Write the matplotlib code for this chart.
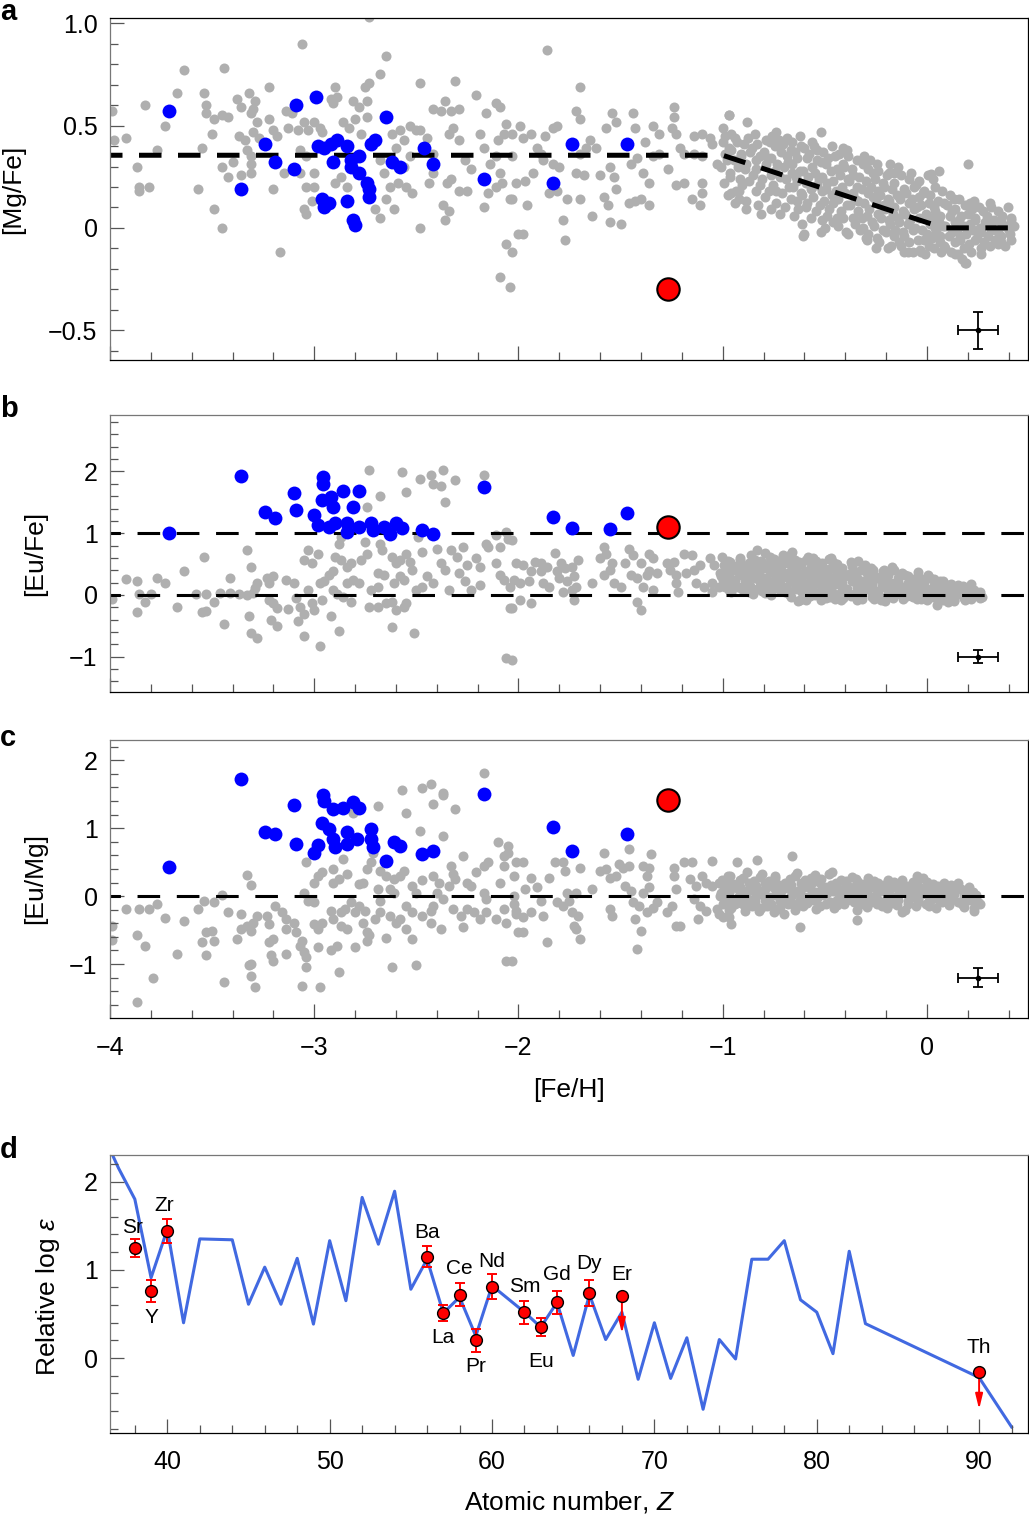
import numpy as np
import matplotlib
matplotlib.use('Agg')
import matplotlib.pyplot as plt
from matplotlib.ticker import MultipleLocator

plt.rcParams['font.family'] = ['Liberation Sans', 'DejaVu Sans']
plt.rcParams['mathtext.fontset'] = 'custom'
plt.rcParams['mathtext.rm'] = 'Liberation Sans'
plt.rcParams['mathtext.it'] = 'Liberation Sans:italic'

# ---------------- panel a-c data ----------------
# the highlighted star
star_feh = -1.27
star_mgfe = -0.30
star_eufe = 1.10
star_eumg = 1.41

# r-II stars (blue)
mgfe_blue = [(-3.71, 0.57), (-3.36, 0.19), (-3.24, 0.41), (-3.19, 0.32), (-3.09, 0.60),
             (-3.10, 0.29), (-2.99, 0.64), (-2.98, 0.40), (-2.95, 0.39), (-2.92, 0.41),
             (-2.89, 0.43), (-2.84, 0.40), (-2.91, 0.32), (-2.96, 0.14), (-2.95, 0.10),
             (-2.93, 0.12), (-2.84, 0.13), (-2.81, 0.04), (-2.80, 0.015), (-2.82, 0.30),
             (-2.78, 0.35), (-2.78, 0.27), (-2.82, 0.33), (-2.74, 0.22), (-2.73, 0.19),
             (-2.73, 0.15), (-2.72, 0.41), (-2.70, 0.43), (-2.65, 0.54), (-2.62, 0.32),
             (-2.58, 0.30), (-2.46, 0.39), (-2.42, 0.31), (-2.17, 0.24), (-1.83, 0.22),
             (-1.74, 0.41), (-1.47, 0.41)]

eufe_blue = [(-3.71, 1.005), (-3.36, 1.92), (-3.24, 1.35), (-3.19, 1.25), (-3.10, 1.65),
             (-3.09, 1.38), (-3.00, 1.29), (-2.98, 1.13), (-2.955, 1.91), (-2.955, 1.80),
             (-2.96, 1.53), (-2.92, 1.59), (-2.91, 1.42), (-2.93, 1.10), (-2.90, 1.16),
             (-2.86, 1.69), (-2.78, 1.69), (-2.81, 1.42), (-2.84, 1.16), (-2.84, 1.02),
             (-2.78, 1.10), (-2.72, 1.16), (-2.71, 1.05), (-2.66, 1.10), (-2.63, 0.99),
             (-2.60, 1.16), (-2.57, 1.08), (-2.47, 1.05), (-2.42, 0.99), (-2.17, 1.75),
             (-1.83, 1.26), (-1.74, 1.09), (-1.55, 1.06), (-1.47, 1.33)]

eumg_blue = [(-3.71, 0.43), (-3.36, 1.72), (-3.24, 0.94), (-3.19, 0.91), (-3.10, 1.34),
             (-3.09, 0.76), (-3.00, 0.64), (-2.98, 0.75), (-2.955, 1.49), (-2.95, 1.40),
             (-2.96, 1.08), (-2.93, 0.99), (-2.91, 0.84), (-2.90, 0.72), (-2.91, 1.28),
             (-2.86, 1.30), (-2.81, 1.39), (-2.78, 1.30), (-2.84, 0.94), (-2.84, 0.76),
             (-2.79, 0.84), (-2.72, 0.99), (-2.72, 0.84), (-2.71, 0.72), (-2.65, 0.52),
             (-2.61, 0.79), (-2.58, 0.74), (-2.47, 0.62), (-2.42, 0.67), (-2.17, 1.50),
             (-1.83, 1.02), (-1.74, 0.66), (-1.47, 0.91)]

# comparison stars (grey)
mgfe_gray = [
    (-3.99, 0.57), (-3.98, 0.43), (-3.92, 0.44), (-3.87, 0.30), (-3.86, 0.20), (-3.86, 0.18),
    (-3.81, 0.20), (-3.83, 0.60), (-3.77, 0.38), (-3.73, 0.50), (-3.67, 0.66), (-3.64, 0.77),
    (-3.57, 0.19), (-3.55, 0.39), (-3.54, 0.66), (-3.53, 0.60), (-3.53, 0.56), (-3.50, 0.46),
    (-3.49, 0.09), (-3.49, 0.53), (-3.45, 0.30), (-3.45, 0.00), (-3.44, 0.78), (-3.45, 0.55),
    (-3.42, 0.54), (-3.42, 0.25), (-3.40, 0.32), (-3.38, 0.63), (-3.36, 0.59), (-3.37, 0.45),
    (-3.34, 0.43), (-3.36, 0.26), (-3.32, 0.66), (-3.29, 0.62), (-3.30, 0.58), (-3.31, 0.56),
    (-3.28, 0.52), (-3.33, 0.38), (-3.31, 0.35), (-3.31, 0.31), (-3.30, 0.47), (-3.27, 0.44),
    (-3.31, 0.27), (-3.22, 0.69), (-3.22, 0.53), (-3.20, 0.48), (-3.18, 0.45), (-3.20, 0.19),
    (-3.17, -0.12), (-3.15, 0.27), (-3.14, 0.57), (-3.13, 0.49), (-3.11, 0.56), (-3.08, 0.48),
    (-3.05, 0.52), (-3.03, 0.48), (-3.06, 0.90), (-3.07, 0.38), (-3.04, 0.35), (-3.07, 0.27),
    (-3.04, 0.20), (-3.00, 0.20), (-3.05, 0.09), (-3.04, 0.07), (-3.01, 0.13), (-3.00, 0.27),
    (-3.00, 0.52), (-2.97, 0.49), (-2.96, 0.47), (-2.92, 0.63), (-2.90, 0.69), (-2.89, 0.64),
    (-2.91, 0.61), (-2.90, 0.22), (-2.87, 0.25), (-2.86, 0.52), (-2.83, 0.49), (-2.81, 0.62),
    (-2.80, 0.53), (-2.84, 0.20), (-2.78, 0.59), (-2.75, 0.69), (-2.74, 0.62), (-2.73, 0.71),
    (-2.74, 0.54), (-2.73, 1.03), (-2.77, 0.46), (-2.70, 0.09), (-2.68, 0.05), (-2.68, 0.75),
    (-2.65, 0.84), (-2.68, 0.33), (-2.66, 0.27), (-2.65, 0.14), (-2.61, 0.09), (-2.62, 0.46),
    (-2.60, 0.39), (-2.58, 0.48), (-2.56, 0.43), (-2.63, 0.20), (-2.59, 0.22), (-2.55, 0.20),
    (-2.52, 0.17), (-2.56, 0.30), (-2.53, 0.35), (-2.53, 0.50), (-2.50, 0.48), (-2.48, 0.48),
    (-2.48, 0.71), (-2.48, 0.00), (-2.45, 0.44), (-2.42, 0.36), (-2.44, 0.22), (-2.42, 0.27),
    (-2.42, 0.58), (-2.38, 0.57), (-2.36, 0.62), (-2.37, 0.11), (-2.36, 0.04), (-2.34, 0.08),
    (-2.35, 0.22), (-2.33, 0.24), (-2.34, 0.46), (-2.32, 0.49), (-2.29, 0.43), (-2.33, 0.57),
    (-2.29, 0.58), (-2.31, 0.72), (-2.29, 0.18), (-2.25, 0.18), (-2.26, 0.33), (-2.23, 0.29),
    (-2.21, 0.65), (-2.19, 0.46), (-2.17, 0.39), (-2.16, 0.56), (-2.17, 0.10), (-2.15, 0.17),
    (-2.14, 0.31), (-2.11, 0.35), (-2.09, 0.27), (-2.11, 0.61), (-2.09, 0.59), (-2.10, 0.43),
    (-2.07, 0.46), (-2.11, 0.20), (-2.08, 0.22), (-2.06, -0.08), (-2.03, -0.12), (-2.04, 0.14),
    (-2.09, -0.24), (-2.04, -0.29), (-2.00, -0.03), (-2.06, 0.51),
    (-1.98, -0.03), (-1.99, 0.50), (-2.03, 0.46), (-2.03, 0.35), (-1.98, 0.44), (-1.94, 0.46),
    (-2.01, 0.22), (-1.97, 0.23), (-1.93, 0.27), (-2.03, 0.14), (-1.96, 0.11), (-1.91, 0.39),
    (-1.88, 0.33), (-1.89, 0.36), (-1.87, 0.45), (-1.83, 0.49), (-1.81, 0.50), (-1.86, 0.87),
    (-1.83, 0.31), (-1.80, 0.30), (-1.85, 0.17), (-1.81, 0.18), (-1.78, 0.04), (-1.77, -0.06),
    (-1.76, 0.14), (-1.72, 0.57), (-1.70, 0.53), (-1.70, 0.69), (-1.70, 0.36), (-1.67, 0.39),
    (-1.65, 0.43), (-1.72, 0.27), (-1.68, 0.26), (-1.70, 0.14), (-1.64, 0.06), (-1.62, 0.39),
    (-1.60, 0.26), (-1.58, 0.15), (-1.56, 0.11), (-1.55, 0.03), (-1.50, 0.02), (-1.57, 0.49),
    (-1.54, 0.56), (-1.52, 0.52), (-1.55, 0.30), (-1.53, 0.25), (-1.52, 0.19), (-1.46, 0.12),
    (-1.43, 0.13), (-1.44, 0.56), (-1.43, 0.49), (-1.45, 0.31), (-1.42, 0.34), (-1.39, 0.27),
    (-1.40, 0.14), (-1.38, 0.42), (-1.36, 0.22), (-1.36, 0.11), (-1.34, 0.50), (-1.31, 0.46),
    (-1.34, 0.35), (-1.31, 0.36), (-1.27, 0.29), (-1.23, 0.21), (-1.24, 0.59), (-1.24, 0.54),
    (-1.25, 0.49), (-1.23, 0.46), (-1.21, 0.39), (-1.19, 0.36), (-1.19, 0.22), (-1.15, 0.14),
    (-1.11, 0.11), (-1.10, 0.22), (-1.10, 0.17), (-1.14, 0.45), (-1.10, 0.46), (-1.06, 0.44),
    (-1.14, 0.36), (-1.10, 0.35), (-1.05, 0.41), (-1.03, 0.31), (-0.97, 0.55), (-1.00, 0.49),
    (-0.96, 0.46), (-0.96, 0.17), (-0.92, 0.18), (-0.92, 0.14), (-0.88, 0.52),
    (-0.74, 0.47), (-0.52, 0.47), (-0.62, 0.45), (-0.41, 0.39), (-0.31, 0.35), (-0.18, 0.31),
    (-0.16, 0.27), (-0.605, -0.04), (-0.52, -0.02), (-0.30, -0.05), (-0.25, -0.10),
    (-0.11, -0.12), (-0.03, -0.12), (0.14, -0.13), (0.19, -0.17), (0.35, -0.08), (0.41, 0.01),
    (0.02, 0.265), (0.06, 0.28), (-0.97, 0.55), (0.20, 0.31)]

eufe_gray = [
    (-3.99, -0.07), (-3.92, 0.25), (-3.87, 0.22), (-3.86, 0.02), (-3.87, -0.27), (-3.83, -0.12),
    (-3.80, 0.02), (-3.77, 0.28), (-3.73, 0.19), (-3.67, -0.19), (-3.64, 0.39), (-3.58, 0.02),
    (-3.55, -0.27), (-3.53, -0.26), (-3.54, 0.62), (-3.53, 0.02), (-3.49, -0.11), (-3.44, -0.47),
    (-3.46, 0.03), (-3.41, 0.03), (-3.41, 0.27), (-3.37, 0.02), (-3.33, 0.00), (-3.33, 0.72),
    (-3.32, -0.34), (-3.31, 0.45), (-3.31, -0.62), (-3.28, -0.70), (-3.29, 0.11), (-3.28, 0.19),
    (-3.30, 0.03), (-3.23, 0.27), (-3.20, 0.30), (-3.22, 0.19), (-3.22, -0.08), (-3.20, -0.13),
    (-3.18, -0.22), (-3.21, -0.40), (-3.18, -0.51), (-3.14, 0.24), (-3.10, 0.20), (-3.13, -0.23),
    (-3.09, -0.05), (-3.07, -0.19), (-3.05, -0.31), (-3.08, -0.43), (-3.05, -0.67), (-3.05, 0.56),
    (-3.03, 0.73), (-3.01, 0.51), (-3.03, 0.08), (-3.01, -0.13), (-3.00, -0.24), (-2.98, 0.67),
    (-2.97, -0.83), (-2.97, 0.19), (-2.95, 0.22), (-2.96, -0.08), (-2.92, -0.35), (-2.93, 0.32),
    (-2.91, 0.38), (-2.91, 0.08), (-2.89, 0.02), (-2.90, 0.62), (-2.87, 0.56), (-2.88, -0.58),
    (-2.87, 0.94), (-2.88, 0.83), (-2.84, 0.46), (-2.82, 0.51), (-2.86, -0.03), (-2.82, -0.11),
    (-2.84, 0.19), (-2.81, 0.24), (-2.78, 0.19), (-2.77, 0.56), (-2.74, 0.67), (-2.74, 1.42),
    (-2.73, 2.02), (-2.75, 0.86), (-2.73, -0.19), (-2.69, -0.19), (-2.72, 0.08), (-2.69, 0.13),
    (-2.69, 0.35), (-2.66, 0.32), (-2.68, 1.61), (-2.68, 0.83), (-2.67, 0.73), (-2.65, -0.13),
    (-2.62, -0.11), (-2.62, -0.52), (-2.62, 0.62), (-2.60, 0.51), (-2.58, 0.56), (-2.61, 0.19),
    (-2.58, 0.30), (-2.56, 0.24), (-2.60, -0.24), (-2.56, -0.19), (-2.55, -0.13), (-2.57, 1.99),
    (-2.55, 1.67), (-2.55, 0.67), (-2.53, 0.54), (-2.52, 0.40), (-2.51, -0.62), (-2.50, 0.08),
    (-2.47, 0.13), (-2.49, 0.94), (-2.48, 1.88), (-2.43, 1.94), (-2.42, 1.80), (-2.38, 1.77),
    (-2.47, 0.70), (-2.45, 0.30), (-2.42, 0.19), (-2.40, 0.75), (-2.38, 0.51), (-2.36, 0.40),
    (-2.37, 2.03), (-2.36, 1.51), (-2.34, 0.08), (-2.31, 1.87), (-2.33, 0.73), (-2.30, 0.62),
    (-2.27, 0.78), (-2.29, 0.35), (-2.26, 0.22), (-2.25, 0.48), (-2.21, 0.59), (-2.19, 0.46),
    (-2.23, 0.08), (-2.19, 0.16), (-2.17, 1.94), (-2.16, 0.83), (-2.15, 0.78), (-2.11, 0.97),
    (-2.09, 0.78), (-2.11, 0.51), (-2.09, 0.32), (-2.06, 1.02), (-2.05, 0.91), (-2.07, 0.24),
    (-2.04, 0.13), (-2.04, -0.22), (-2.06, -1.02), (-2.03, -1.05), (-2.01, 0.51),
    (-2.03, 0.89), (-2.03, -0.22), (-1.98, 0.48), (-1.94, 0.38), (-2.02, 0.24), (-1.99, 0.19),
    (-1.95, 0.22), (-1.99, -0.08), (-1.94, -0.13), (-1.92, 0.54), (-1.89, 0.51), (-1.89, 0.38),
    (-1.86, 0.46), (-1.88, 0.19), (-1.85, 0.13), (-1.82, 0.68), (-1.81, 0.38), (-1.79, 0.51),
    (-1.77, 0.43), (-1.74, 0.46), (-1.80, 0.27), (-1.76, 0.22), (-1.73, 0.30), (-1.71, 0.56),
    (-1.78, 0.05), (-1.74, 0.08), (-1.72, 0.13), (-1.73, -0.08), (-1.64, 0.20), (-1.60, 0.59),
    (-1.58, 0.78), (-1.57, 0.67), (-1.58, 0.32), (-1.55, 0.40), (-1.54, 0.51), (-1.53, 0.19),
    (-1.50, 0.13), (-1.48, 0.51), (-1.46, 0.75), (-1.44, 0.65), (-1.45, 0.32), (-1.42, 0.27),
    (-1.40, 0.51), (-1.42, -0.11), (-1.40, -0.24), (-1.39, 0.13), (-1.37, 0.32), (-1.36, 0.67),
    (-1.34, 0.59), (-1.36, 0.38), (-1.32, 0.35), (-1.34, 0.08), (-1.275, 0.51), (-1.26, 0.40),
    (-1.23, 0.32), (-1.24, 0.54), (-1.23, 0.19), (-1.22, 0.05), (-1.19, 0.67), (-1.15, 0.65),
    (-1.18, 0.35), (-1.14, 0.40), (-1.11, 0.48), (-1.13, 0.19), (-1.09, 0.13), (-1.06, 0.59),
    (-1.04, 0.48), (-1.05, 0.05), (-1.05, 0.19), (-1.01, 0.30), (-0.99, 0.13), (-0.98, 0.51),
    (-0.96, 0.05),
    (-0.83, 0.73), (-0.66, 0.70), (-0.47, 0.59), (-0.37, 0.54), (-0.21, 0.41), (0.08, 0.23),
    (0.15, 0.16), (0.19, 0.08), (0.26, -0.05), (-0.62, -0.09), (0.05, -0.16)]

eumg_gray = [
    (-3.99, -0.44), (-3.99, -0.64), (-3.92, -0.19), (-3.87, -0.58), (-3.86, -0.19), (-3.81, -0.19),
    (-3.87, -1.56), (-3.83, -0.73), (-3.79, -1.21), (-3.77, -0.11), (-3.73, -0.32), (-3.67, -0.85),
    (-3.64, -0.37), (-3.57, -0.19), (-3.55, -0.67), (-3.53, -0.87), (-3.54, -0.07), (-3.49, -0.09),
    (-3.53, -0.53), (-3.50, -0.51), (-3.49, -0.66), (-3.45, 0.01), (-3.44, -1.26), (-3.42, -0.24),
    (-3.38, -0.63), (-3.36, -0.49), (-3.36, -0.26), (-3.33, 0.31), (-3.31, 0.16), (-3.33, -0.44),
    (-3.30, -0.39), (-3.28, -0.29), (-3.32, -1.02), (-3.31, -1.00), (-3.31, -1.17), (-3.29, -1.34),
    (-3.31, -0.51), (-3.23, -0.29), (-3.22, -0.41), (-3.19, -0.14), (-3.22, -0.68), (-3.20, -0.63),
    (-3.21, -0.87), (-3.20, -0.95), (-3.16, -0.24), (-3.14, -0.34), (-3.14, -0.85), (-3.14, -0.49),
    (-3.10, -0.39), (-3.09, -0.53), (-3.06, -0.66), (-3.07, -0.73), (-3.05, -0.83), (-3.04, -0.90),
    (-3.06, -1.32), (-3.04, -1.05), (-3.05, 0.05), (-3.03, -0.07), (-3.04, 0.50), (-3.00, 0.20),
    (-2.98, 0.30), (-2.96, 0.35), (-3.00, -0.09), (-3.00, -0.41), (-2.98, -0.49), (-2.96, -0.39),
    (-2.98, -0.75), (-2.97, -1.34), (-2.92, -0.22), (-2.91, -0.34), (-2.92, -0.80), (-2.89, -0.73),
    (-2.91, 0.40), (-2.91, 0.20), (-2.88, 0.25), (-2.88, -1.12), (-2.87, -0.24), (-2.85, -0.19),
    (-2.87, -0.44), (-2.84, -0.49), (-2.86, 0.54), (-2.84, 0.32), (-2.82, -0.09), (-2.80, -0.24),
    (-2.80, -0.75), (-2.81, 1.23), (-2.78, 0.18), (-2.76, 0.20), (-2.78, -0.14), (-2.75, -0.22),
    (-2.76, -0.39), (-2.74, -0.53), (-2.74, -0.66), (-2.73, -0.58), (-2.74, 0.40), (-2.72, 0.50),
    (-2.71, 0.64), (-2.69, 1.33), (-2.70, -0.34), (-2.68, -0.24), (-2.69, 0.10), (-2.68, -0.07),
    (-2.68, 0.37), (-2.65, 0.30), (-2.65, -0.61), (-2.63, -0.29), (-2.60, -0.39), (-2.58, -0.34),
    (-2.62, -1.05), (-2.63, 0.10), (-2.61, 0.05), (-2.61, 0.25), (-2.58, 0.30), (-2.56, 0.37),
    (-2.57, 1.56), (-2.55, 1.22), (-2.55, -0.49), (-2.52, -0.63), (-2.55, -0.14), (-2.52, -0.24),
    (-2.52, 0.15), (-2.50, 0.05), (-2.50, -1.02), (-2.48, 0.96), (-2.47, 1.59), (-2.43, 1.65),
    (-2.42, 1.35), (-2.37, 1.52), (-2.37, 1.49), (-2.47, 0.23), (-2.47, -0.29), (-2.43, -0.22),
    (-2.42, -0.14), (-2.43, -0.39), (-2.38, -0.49), (-2.42, 0.30), (-2.39, 0.20), (-2.40, 0.05),
    (-2.37, -0.04), (-2.37, 0.89), (-2.33, 0.45), (-2.32, 0.32), (-2.31, 1.28), (-2.34, 0.15),
    (-2.31, 0.25), (-2.32, -0.19), (-2.28, -0.29), (-2.27, -0.46), (-2.27, 0.59), (-2.25, 0.20),
    (-2.23, 0.15), (-2.25, -0.19), (-2.22, -0.24), (-2.19, -0.34), (-2.21, 0.35), (-2.17, 1.82),
    (-2.17, 0.45), (-2.15, 0.50), (-2.17, 0.05), (-2.16, -0.04), (-2.16, -0.24), (-2.10, 0.79),
    (-2.05, 0.74), (-2.09, 0.20), (-2.07, 0.45), (-2.07, 0.59), (-2.05, 0.64), (-2.11, -0.34),
    (-2.07, -0.19), (-2.06, -0.39), (-2.06, -0.95), (-2.03, -0.95), (-2.02, 0.00), (-2.01, -0.22),
    (-2.01, 0.50), (-2.00, -0.53),
    (-1.98, 0.50), (-1.94, 0.27), (-2.02, 0.30), (-2.02, -0.12), (-2.01, -0.26), (-1.98, -0.31),
    (-1.94, -0.24), (-1.98, -0.53), (-1.97, 0.10), (-1.91, 0.13), (-1.89, -0.07), (-1.88, -0.29),
    (-1.86, -0.68), (-1.85, 0.27), (-1.82, 0.50), (-1.78, 0.50), (-1.77, 0.37), (-1.81, -0.09),
    (-1.78, -0.14), (-1.75, -0.07), (-1.76, 0.05), (-1.72, 0.05), (-1.74, -0.24), (-1.71, -0.29),
    (-1.73, -0.44), (-1.72, -0.49), (-1.70, 0.42), (-1.70, -0.63), (-1.64, 0.10), (-1.60, 0.37),
    (-1.57, 0.40), (-1.55, 0.27), (-1.58, 0.64), (-1.55, -0.19), (-1.54, -0.29), (-1.51, 0.47),
    (-1.49, 0.42), (-1.46, 0.45), (-1.52, 0.30), (-1.48, 0.15), (-1.45, 0.08), (-1.46, 0.69),
    (-1.44, -0.09), (-1.41, -0.14), (-1.43, -0.34), (-1.42, -0.78), (-1.40, -0.52), (-1.39, 0.45),
    (-1.37, 0.30), (-1.36, 0.42), (-1.35, 0.62), (-1.39, 0.05), (-1.36, 0.13), (-1.37, -0.24),
    (-1.34, -0.17), (-1.32, -0.09), (-1.275, -0.24), (-1.25, -0.14), (-1.24, 0.42), (-1.24, 0.30),
    (-1.23, 0.11), (-1.23, -0.44), (-1.21, -0.44), (-1.19, 0.50), (-1.15, 0.50), (-1.16, 0.25),
    (-1.13, 0.15), (-1.14, -0.04), (-1.11, -0.14), (-1.08, -0.22), (-1.12, -0.34), (-1.10, 0.30),
    (-1.08, 0.20), (-1.05, 0.52), (-1.05, 0.15), (-1.02, 0.20), (-1.01, 0.05), (-1.03, -0.19),
    (-1.00, -0.31), (-0.97, -0.31), (-0.96, -0.41), (-0.93, 0.50), (-0.83, 0.53), (-0.66, 0.59),
    (-0.62, -0.46), (-0.70, -0.26), (-0.34, -0.35), (0.15, 0.20), (-0.12, -0.24), (-0.12, 0.23),
    (-0.05, 0.30), (0.23, -0.22), (0.26, -0.12), (0.19, 0.08)]

# dense disk-star clouds at [Fe/H] > -1, read column by column (x, list of y)
mgfe_cloud_x = [-1.00, -0.975, -0.95, -0.925, -0.90, -0.875, -0.85, -0.825, -0.80, -0.775,
                -0.75, -0.725, -0.70, -0.675, -0.65, -0.625, -0.60, -0.575, -0.55, -0.525,
                -0.50, -0.475, -0.45, -0.425, -0.40, -0.375, -0.35, -0.325, -0.30, -0.275,
                -0.25, -0.225, -0.20, -0.175, -0.15, -0.125, -0.10, -0.075, -0.05, -0.025,
                0.00, 0.025, 0.05, 0.075, 0.10, 0.125, 0.15, 0.175, 0.20, 0.225, 0.25, 0.275,
                0.30, 0.325, 0.35, 0.375, 0.40, 0.42]
mgfe_cloud_y = [
    [0.42, 0.36, 0.30, 0.22], [0.45, 0.39, 0.33, 0.25, 0.16], [0.44, 0.38, 0.33, 0.27, 0.12],
    [0.42, 0.36, 0.30, 0.24, 0.18], [0.41, 0.35, 0.29, 0.21, 0.09], [0.44, 0.37, 0.31, 0.23, 0.13],
    [0.46, 0.39, 0.33, 0.26, 0.18], [0.41, 0.35, 0.29, 0.21, 0.11],
    [0.43, 0.37, 0.31, 0.24, 0.15, 0.07], [0.42, 0.34, 0.26, 0.18, 0.09],
    [0.45, 0.40, 0.34, 0.28, 0.21, 0.12], [0.43, 0.37, 0.31, 0.25, 0.18, 0.07],
    [0.41, 0.35, 0.30, 0.24, 0.17, 0.10], [0.44, 0.38, 0.32, 0.27, 0.20, 0.14],
    [0.42, 0.37, 0.31, 0.25, 0.20, 0.13, 0.06], [0.40, 0.34, 0.28, 0.23, 0.17, 0.09, 0.02],
    [0.39, 0.34, 0.28, 0.22, 0.16, 0.10, -0.03], [0.42, 0.36, 0.30, 0.25, 0.19, 0.12, 0.05],
    [0.40, 0.33, 0.27, 0.21, 0.15, 0.08], [0.38, 0.32, 0.24, 0.18, 0.11, 0.04],
    [0.37, 0.31, 0.25, 0.19, 0.13, 0.06, 0.00], [0.40, 0.34, 0.28, 0.22, 0.16, 0.09, 0.03],
    [0.35, 0.29, 0.23, 0.18, 0.12, 0.05], [0.36, 0.31, 0.26, 0.20, 0.14, 0.08, 0.01],
    [0.38, 0.30, 0.24, 0.17, 0.11, 0.05, -0.02], [0.35, 0.29, 0.23, 0.17, 0.11, 0.05, -0.03],
    [0.33, 0.26, 0.20, 0.14, 0.08, 0.02], [0.31, 0.25, 0.19, 0.13, 0.05, -0.01],
    [0.29, 0.23, 0.17, 0.12, 0.06, 0.00, -0.06], [0.33, 0.27, 0.20, 0.15, 0.09, 0.03, -0.03],
    [0.31, 0.24, 0.18, 0.13, 0.07, 0.01, -0.05], [0.28, 0.22, 0.16, 0.11, 0.05, -0.01, -0.07],
    [0.26, 0.20, 0.14, 0.09, 0.04, -0.02, -0.10], [0.27, 0.19, 0.13, 0.07, 0.02, -0.04, -0.09],
    [0.30, 0.22, 0.16, 0.10, 0.05, -0.01, -0.07], [0.26, 0.19, 0.14, 0.08, 0.03, -0.02, -0.09],
    [0.24, 0.17, 0.12, 0.07, 0.02, -0.04, -0.12],
    [0.27, 0.20, 0.14, 0.09, 0.04, -0.01, -0.07, -0.12],
    [0.21, 0.15, 0.10, 0.05, 0.00, -0.06], [0.23, 0.17, 0.11, 0.05, -0.01, -0.06, -0.11],
    [0.26, 0.18, 0.12, 0.07, 0.02, -0.03, -0.09, -0.13],
    [0.24, 0.16, 0.10, 0.05, 0.00, -0.05, -0.10], [0.20, 0.13, 0.08, 0.03, -0.02, -0.07],
    [0.18, 0.12, 0.06, 0.01, -0.04, -0.09, -0.12], [0.16, 0.11, 0.06, 0.01, -0.04, -0.10],
    [0.14, 0.08, 0.03, -0.02, -0.07, -0.12], [0.14, 0.09, 0.04, -0.01, -0.06, -0.13],
    [0.11, 0.06, 0.01, -0.04, -0.10, -0.15], [0.12, 0.07, 0.02, -0.03, -0.08, -0.17],
    [0.13, 0.09, 0.04, -0.01, -0.06, -0.12], [0.10, 0.05, 0.00, -0.05, -0.10],
    [0.08, 0.03, -0.02, -0.07, -0.13], [0.12, 0.06, 0.01, -0.04, -0.09],
    [0.10, 0.04, -0.01, -0.06], [0.08, 0.03, -0.02, -0.07], [0.06, 0.01, -0.04, -0.09],
    [0.10, 0.04, -0.01, -0.06], [0.05, 0.01, -0.03]]

eufe_cloud_x = [-1.005, -0.98, -0.955, -0.93, -0.905, -0.88, -0.855, -0.83, -0.805, -0.78,
                -0.755, -0.73, -0.705, -0.68, -0.655, -0.63, -0.605, -0.58, -0.555, -0.53,
                -0.505, -0.48, -0.455, -0.43, -0.405, -0.38, -0.355, -0.33, -0.305, -0.28,
                -0.255, -0.23, -0.205, -0.18, -0.155, -0.13, -0.105, -0.08, -0.055, -0.03,
                -0.005, 0.02, 0.045, 0.07, 0.095, 0.12, 0.145, 0.17, 0.195, 0.21, 0.235, 0.26]
eufe_cloud_y = [
    [0.62, 0.49, 0.36, 0.24, 0.12], [0.55, 0.42, 0.30, 0.18, 0.08],
    [0.53, 0.41, 0.29, 0.17, 0.06], [0.60, 0.47, 0.35, 0.24, 0.12],
    [0.57, 0.45, 0.33, 0.21, 0.09], [0.52, 0.40, 0.28, 0.16, 0.04],
    [0.64, 0.50, 0.38, 0.27, 0.14, 0.02], [0.57, 0.45, 0.33, 0.21, 0.10],
    [0.68, 0.55, 0.43, 0.31, 0.19, 0.07], [0.62, 0.50, 0.38, 0.27, 0.15, 0.03],
    [0.58, 0.46, 0.34, 0.23, 0.11, 0.00], [0.55, 0.43, 0.31, 0.20, 0.08],
    [0.64, 0.52, 0.40, 0.29, 0.17, 0.05], [0.60, 0.48, 0.36, 0.24, 0.12, 0.01],
    [0.66, 0.56, 0.44, 0.33, 0.21, 0.09, -0.04], [0.53, 0.41, 0.29, 0.17, 0.06, -0.10],
    [0.57, 0.50, 0.38, 0.26, 0.14, 0.02, -0.08], [0.62, 0.46, 0.34, 0.22, 0.10, -0.02],
    [0.59, 0.48, 0.36, 0.24, 0.12, 0.00], [0.55, 0.40, 0.28, 0.16, 0.04, -0.08],
    [0.51, 0.42, 0.30, 0.18, 0.06, -0.05], [0.58, 0.44, 0.32, 0.20, 0.09, -0.03],
    [0.54, 0.41, 0.29, 0.17, 0.05, -0.06], [0.50, 0.37, 0.25, 0.13, 0.02, -0.09],
    [0.44, 0.31, 0.19, 0.07, -0.05], [0.47, 0.34, 0.22, 0.10, -0.02],
    [0.50, 0.37, 0.25, 0.13, 0.02, -0.09], [0.55, 0.40, 0.28, 0.16, 0.05, -0.06],
    [0.48, 0.35, 0.23, 0.11, 0.00], [0.44, 0.31, 0.19, 0.08, -0.04],
    [0.41, 0.29, 0.17, 0.06, -0.06], [0.38, 0.26, 0.14, 0.03, -0.08],
    [0.36, 0.24, 0.12, 0.01, -0.10], [0.45, 0.32, 0.20, 0.09, -0.02],
    [0.40, 0.28, 0.16, 0.05, -0.05], [0.35, 0.23, 0.12, 0.01, -0.07],
    [0.32, 0.20, 0.09, -0.02], [0.30, 0.18, 0.07, -0.04], [0.28, 0.15, 0.05, -0.06],
    [0.37, 0.25, 0.13, 0.03, -0.06], [0.33, 0.21, 0.10, 0.00, -0.09],
    [0.28, 0.16, 0.06, -0.03], [0.25, 0.13, 0.03, -0.06], [0.22, 0.11, 0.01, -0.08],
    [0.20, 0.09, -0.01, -0.12], [0.18, 0.08, -0.02, -0.10], [0.12, 0.02, -0.08],
    [0.15, 0.05, -0.05], [0.10, 0.00, -0.09], [0.18, 0.04, -0.07], [0.08, -0.02],
    [0.05, -0.04]]

eumg_cloud_x = [-1.005, -0.98, -0.955, -0.93, -0.905, -0.88, -0.855, -0.83, -0.805, -0.78,
                -0.755, -0.73, -0.705, -0.68, -0.655, -0.63, -0.605, -0.58, -0.555, -0.53,
                -0.505, -0.48, -0.455, -0.43, -0.405, -0.38, -0.355, -0.33, -0.305, -0.28,
                -0.255, -0.23, -0.205, -0.18, -0.155, -0.13, -0.105, -0.08, -0.055, -0.03,
                -0.005, 0.02, 0.045, 0.07, 0.095, 0.12, 0.145, 0.17, 0.195, 0.22, 0.24]
eumg_cloud_y = [
    [0.24, 0.12, 0.00, -0.12, -0.26], [0.30, 0.18, 0.06, -0.06, -0.20],
    [0.30, 0.18, 0.06, -0.06, -0.18], [0.24, 0.12, 0.00, -0.12],
    [0.27, 0.14, 0.02, -0.10, -0.22], [0.35, 0.20, 0.08, -0.04, -0.16],
    [0.22, 0.09, -0.03, -0.15], [0.28, 0.15, 0.03, -0.09, -0.22],
    [0.32, 0.19, 0.07, -0.05, -0.18], [0.22, 0.10, -0.02, -0.14],
    [0.26, 0.13, 0.01, -0.11, -0.24], [0.30, 0.17, 0.05, -0.07, -0.19],
    [0.20, 0.08, -0.04, -0.16], [0.25, 0.12, 0.00, -0.12],
    [0.29, 0.16, 0.04, -0.08, -0.20], [0.34, 0.19, 0.07, -0.05, -0.16],
    [0.23, 0.10, -0.02, -0.14], [0.27, 0.14, 0.02, -0.10],
    [0.31, 0.18, 0.06, -0.06, -0.19], [0.21, 0.09, -0.03, -0.15],
    [0.25, 0.13, 0.01, -0.11], [0.32, 0.16, 0.04, -0.08],
    [0.35, 0.19, 0.07, -0.05, -0.17], [0.24, 0.11, -0.01, -0.13],
    [0.22, 0.11, 0.00, -0.12], [0.28, 0.17, 0.06, -0.06],
    [0.25, 0.14, 0.03, -0.08, -0.20], [0.21, 0.09, -0.03, -0.12],
    [0.18, 0.06, -0.05, -0.16], [0.26, 0.14, 0.03, -0.09],
    [0.22, 0.11, 0.00, -0.11], [0.19, 0.08, -0.04, -0.14],
    [0.17, 0.05, -0.07, -0.17], [0.24, 0.12, 0.01, -0.10],
    [0.21, 0.10, -0.01, -0.13], [0.17, 0.06, -0.05],
    [0.15, 0.04, -0.07, -0.20], [0.21, 0.10, -0.01, -0.12],
    [0.24, 0.07, -0.04, -0.15], [0.26, 0.13, 0.03, -0.08],
    [0.21, 0.09, -0.01, -0.11], [0.18, 0.07, -0.04, -0.14],
    [0.15, 0.04, -0.06, -0.17], [0.12, 0.01, -0.09],
    [0.19, 0.08, -0.03, -0.13], [0.16, 0.05, -0.06],
    [0.13, 0.03, -0.08], [0.10, 0.00, -0.11],
    [0.14, 0.04, -0.06, -0.16], [0.06, -0.05, -0.18], [0.02, -0.09]]

# small horizontal spread of stars inside one read-off column
cloud_spread = [0.0, 0.011, -0.009, 0.006, -0.012, 0.008, -0.004, 0.013]

# reference lines
mgfe_model_feh = [-4.0, -1.0, 0.08, 0.42]
mgfe_model_val = [0.355, 0.355, 0.0, 0.0]
eufe_ref_levels = [0.0, 1.0]
eumg_ref_levels = [0.0]

# typical error crosses
err_feh = 0.25
err_dfeh = 0.1
err_pos = [-0.5, -1.0, -1.2]
err_size = [0.09, 0.10, 0.135]

# ---------------- panel d data ----------------
solar_z = [36, 37, 38, 39, 40, 41, 42, 44, 45, 46, 47, 48, 49, 50, 51, 52, 53, 54, 55, 56,
           57, 58, 59, 60, 62, 63, 64, 65, 66, 67, 68, 69, 70, 71, 72, 73, 74, 75, 76, 77,
           78, 79, 80, 81, 82, 83, 90, 92]
solar_val = [2.55, 2.15, 1.80, 0.91, 1.46, 0.40, 1.35, 1.34, 0.61, 1.03, 0.61, 1.13, 0.385,
             1.33, 0.65, 1.82, 1.29, 1.89, 0.78, 1.12, 0.51, 0.69, 0.25, 0.82, 0.52, 0.35,
             0.63, 0.03, 0.72, 0.21, 0.52, -0.24, 0.40, -0.23, 0.23, -0.58, 0.21, -0.01,
             1.12, 1.12, 1.33, 0.66, 0.52, 0.05, 1.21, 0.39, -0.22, -0.78]

elem_names = ['Sr', 'Y', 'Zr', 'Ba', 'La', 'Ce', 'Pr', 'Nd', 'Sm', 'Eu', 'Gd', 'Dy']
elem_z = [38, 39, 40, 56, 57, 58, 59, 60, 62, 63, 64, 66]
elem_val = [1.245, 0.76, 1.44, 1.15, 0.51, 0.72, 0.20, 0.81, 0.52, 0.35, 0.63, 0.74]
elem_err = [0.10, 0.13, 0.14, 0.12, 0.09, 0.13, 0.13, 0.14, 0.13, 0.10, 0.13, 0.15]

limit_names = ['Er', 'Th']
limit_z = [68, 90]
limit_val = [0.70, -0.16]

# label offsets in points (dx, dy)
label_offsets = {'Sr': (-2, 15), 'Y': (0, -19), 'Zr': (-2, 18.5), 'Ba': (0, 17.5),
                 'La': (0, -17.5), 'Ce': (0, 18.5), 'Pr': (0, -18.5), 'Nd': (0, 18),
                 'Sm': (0, 18.5), 'Eu': (0, -25), 'Gd': (0, 20), 'Dy': (0, 21),
                 'Er': (0, 15.5), 'Th': (0, 17.5)}

GRAY = '#afafaf'
BLUE = '#0000ff'
LINE_BLUE = '#4169e1'
TICK_COL = '#555555'


def cloud_points(xs, ys):
    pts = []
    k = 0
    for x, col in zip(xs, ys):
        for y in col:
            pts.append((x + cloud_spread[k % len(cloud_spread)], y))
            k += 1
    return pts


def style_axis(ax, top_black=False):
    for side in ['left', 'top', 'right', 'bottom']:
        ax.spines[side].set_linewidth(0.9)
    ax.spines['left'].set_color('#777777')
    ax.spines['top'].set_color('black' if top_black else '#777777')
    ax.spines['right'].set_color('black')
    ax.spines['bottom'].set_color('black')
    ax.tick_params(which='both', direction='in', top=False, right=False,
                   color=TICK_COL, labelcolor='black', labelsize=18, width=0.9)
    ax.tick_params(which='major', length=10)
    ax.tick_params(which='minor', length=5.5)
    ax.tick_params(axis='y', which='major', pad=9)
    ax.tick_params(axis='x', which='major', pad=13)


def scatter_panel(ax, gray, blue, star_y, err_y, err_dy):
    gx, gy = np.array(gray).T
    ax.scatter(gx, gy, s=52, c=GRAY, linewidths=0, zorder=1)
    bx, by = np.array(blue).T
    ax.scatter(bx, by, s=100, c=BLUE, linewidths=0, zorder=3)
    ax.scatter([star_feh], [star_y], s=260, c='red', edgecolors='black',
               linewidths=1.5, zorder=4)
    ax.errorbar(err_feh, err_y, xerr=err_dfeh, yerr=err_dy, fmt='o', ms=3,
                color='black', capsize=3.5, elinewidth=1.3, capthick=1.3, zorder=4)
    ax.set_xlim(-4.0, 0.495)
    ax.xaxis.set_major_locator(MultipleLocator(1))
    ax.xaxis.set_minor_locator(MultipleLocator(0.2))


fig = plt.figure(figsize=(10.29, 15.15), dpi=100)
ax_a = fig.add_axes([0.1069, 0.7624, 0.8921, 0.2257])
ax_b = fig.add_axes([0.1069, 0.5432, 0.8921, 0.1828])
ax_c = fig.add_axes([0.1069, 0.3281, 0.8921, 0.1835])
ax_d = fig.add_axes([0.1069, 0.0541, 0.8921, 0.1835])

# panel a
scatter_panel(ax_a, mgfe_gray + cloud_points(mgfe_cloud_x, mgfe_cloud_y), mgfe_blue,
              star_mgfe, err_pos[0], err_size[0])
ax_a.plot(mgfe_model_feh, mgfe_model_val, color='black', lw=3.6,
          ls=(2, (4.5, 3.3)), zorder=2)
ax_a.set_ylim(-0.646, 1.026)
ax_a.set_yticks([-0.5, 0, 0.5, 1.0])
ax_a.set_yticklabels(['\u22120.5', '0', '0.5', '1.0'])
ax_a.yaxis.set_minor_locator(MultipleLocator(0.1))
ax_a.set_xticklabels([])
ax_a.set_ylabel('[Mg/Fe]', fontsize=19)
ax_a.yaxis.set_label_coords(-0.0926, 0.5)
style_axis(ax_a, top_black=True)

# panel b
scatter_panel(ax_b, eufe_gray + cloud_points(eufe_cloud_x, eufe_cloud_y), eufe_blue,
              star_eufe, err_pos[1], err_size[1])
for lev in eufe_ref_levels:
    ax_b.axhline(lev, color='black', lw=2.2, ls=(4, (7.4, 5.45)), zorder=2)
ax_b.set_ylim(-1.575, 2.914)
ax_b.set_yticks([-1, 0, 1, 2])
ax_b.set_yticklabels(['\u22121', '0', '1', '2'])
ax_b.yaxis.set_minor_locator(MultipleLocator(0.2))
ax_b.set_xticklabels([])
ax_b.set_ylabel('[Eu/Fe]', fontsize=19)
ax_b.yaxis.set_label_coords(-0.0686, 0.5)
style_axis(ax_b)

# panel c
scatter_panel(ax_c, eumg_gray + cloud_points(eumg_cloud_x, eumg_cloud_y), eumg_blue,
              star_eumg, err_pos[2], err_size[2])
for lev in eumg_ref_levels:
    ax_c.axhline(lev, color='black', lw=2.2, ls=(4, (7.4, 5.45)), zorder=2)
ax_c.set_ylim(-1.794, 2.30)
ax_c.set_yticks([-1, 0, 1, 2])
ax_c.set_yticklabels(['\u22121', '0', '1', '2'])
ax_c.yaxis.set_minor_locator(MultipleLocator(0.2))
ax_c.set_xticks([-4, -3, -2, -1, 0])
ax_c.set_xticklabels(['\u22124', '\u22123', '\u22122', '\u22121', '0'])
ax_c.set_xlabel('[Fe/H]', fontsize=19, labelpad=13)
ax_c.set_ylabel('[Eu/Mg]', fontsize=19)
ax_c.yaxis.set_label_coords(-0.0686, 0.5)
style_axis(ax_c)

# panel d
ax_d.plot(solar_z, solar_val, color=LINE_BLUE, lw=2.2, zorder=1)
ax_d.errorbar(elem_z, elem_val, yerr=elem_err, fmt='none', ecolor='red',
              elinewidth=1.4, capsize=3.5, capthick=1.4, zorder=2)
for z, v in zip(limit_z, limit_val):
    ax_d.annotate('', xy=(z, v - 0.42), xytext=(z, v),
                  arrowprops=dict(arrowstyle='-|>,head_length=0.9,head_width=0.22',
                                  color='red', lw=1.4, shrinkA=0, shrinkB=0),
                  zorder=2)
ax_d.plot(elem_z + limit_z, elem_val + limit_val, 'o', color='red', mec='black',
          mew=1.0, ms=8.5, zorder=3)
for name, z, v in zip(elem_names + limit_names, elem_z + limit_z, elem_val + limit_val):
    dx, dy = label_offsets[name]
    ax_d.annotate(name, xy=(z, v), xytext=(dx, dy), textcoords='offset points',
                  ha='center', va='center', fontsize=15)
ax_d.set_xlim(36.47, 93.01)
ax_d.set_ylim(-0.849, 2.30)
ax_d.set_xticks([40, 50, 60, 70, 80, 90])
ax_d.xaxis.set_minor_locator(MultipleLocator(2))
ax_d.set_yticks([0, 1, 2])
ax_d.yaxis.set_minor_locator(MultipleLocator(0.2))
ax_d.set_xlabel('Atomic number, $Z$', fontsize=19, labelpad=11)
ax_d.set_ylabel('Relative log $\\varepsilon$', fontsize=19)
ax_d.yaxis.set_label_coords(-0.0523, 0.49)
style_axis(ax_d)
ax_d.tick_params(axis='x', which='major', pad=12)

# panel letters
for letter, ypix in zip(['a', 'b', 'c', 'd'], [12, 409, 738, 1150]):
    fig.text(0.0, 1 - ypix / 1515, letter, fontsize=21, fontweight='bold',
             ha='left', va='center')

fig.savefig('out.png', dpi=100)
